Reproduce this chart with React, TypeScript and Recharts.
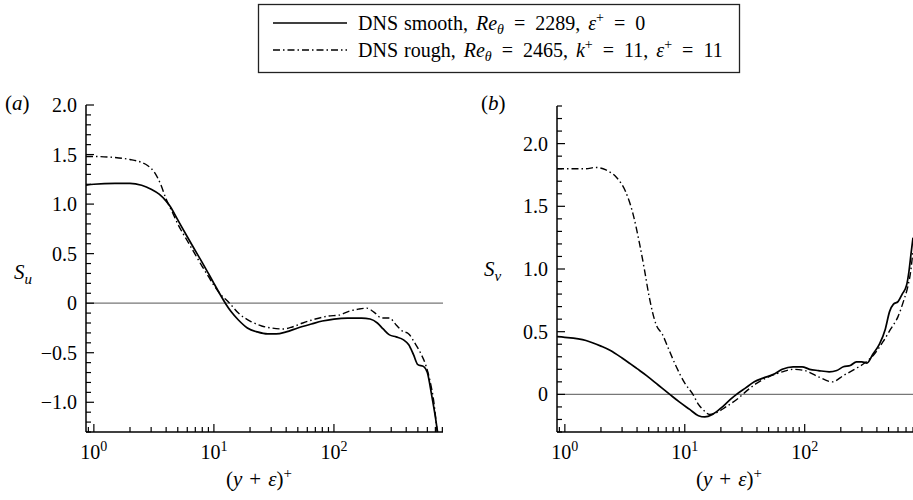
import React from 'react';
import {
  LineChart,
  Line,
  XAxis,
  YAxis,
  ReferenceLine,
} from 'recharts';

/* ---------- DATA ---------- */
// panel (a): S_u
const suSmoothX = [0.86, 1, 1.5, 2, 2.5, 3, 3.5, 4, 4.3, 5, 6, 7, 8, 9, 10, 11, 12.6, 14, 16, 19, 23, 28, 33, 40, 50, 65, 80, 100, 130, 170, 200, 230, 257, 290, 330, 380, 420, 460, 500, 560, 600, 650, 700, 740];
const suSmoothY = [1.19, 1.2, 1.21, 1.21, 1.19, 1.15, 1.1, 1.03, 0.98, 0.84, 0.67, 0.53, 0.41, 0.3, 0.2, 0.11, -0.01, -0.09, -0.17, -0.25, -0.29, -0.31, -0.31, -0.29, -0.25, -0.21, -0.18, -0.16, -0.15, -0.15, -0.16, -0.2, -0.26, -0.32, -0.34, -0.37, -0.42, -0.52, -0.62, -0.64, -0.7, -0.92, -1.15, -1.35];
const suRoughX = [0.86, 1, 1.5, 2, 2.5, 2.8, 3.2, 3.6, 4, 4.5, 5, 6, 7, 8, 9, 10, 11, 13.5, 16, 20, 25, 30, 38, 45, 55, 70, 90, 110, 135, 160, 188, 215, 250, 290, 330, 370, 420, 470, 525, 580, 630, 680, 730];
const suRoughY = [1.48, 1.48, 1.47, 1.45, 1.42, 1.39, 1.32, 1.2, 1.05, 0.92, 0.8, 0.63, 0.49, 0.37, 0.27, 0.18, 0.11, 0, -0.1, -0.18, -0.23, -0.25, -0.26, -0.24, -0.2, -0.16, -0.13, -0.12, -0.08, -0.06, -0.05, -0.09, -0.15, -0.15, -0.22, -0.28, -0.31, -0.4, -0.5, -0.62, -0.78, -1.0, -1.35];

// panel (b): S_v
const svSmoothX = [0.86, 1, 1.5, 2, 2.4, 3, 3.5, 4, 4.8, 6, 7.5, 9, 11, 13, 14.7, 17, 20, 24, 27, 32, 38, 45, 55, 65, 80, 95, 110, 130, 160, 185, 210, 240, 270, 300, 330, 370, 420, 470, 510, 550, 600, 650, 707, 740, 770, 800];
const svSmoothY = [0.46, 0.455, 0.43, 0.385, 0.35, 0.29, 0.245, 0.205, 0.15, 0.075, 0, -0.06, -0.12, -0.17, -0.18, -0.16, -0.11, -0.04, 0, 0.05, 0.1, 0.13, 0.16, 0.2, 0.22, 0.22, 0.2, 0.19, 0.18, 0.19, 0.22, 0.23, 0.26, 0.26, 0.25, 0.32, 0.4, 0.52, 0.66, 0.72, 0.74, 0.8, 0.87, 0.98, 1.12, 1.25];
const svRoughX = [0.86, 1, 1.5, 1.8, 2.2, 2.7, 3.2, 3.7, 4.2, 4.6, 5, 5.8, 6.5, 7.2, 8.5, 10, 11.7, 13, 14.5, 16.1, 18, 22, 28, 33, 40, 50, 65, 80, 100, 130, 170, 210, 260, 316, 380, 450, 520, 600, 670, 720, 770, 800];
const svRoughY = [1.8, 1.8, 1.8, 1.81, 1.79, 1.73, 1.62, 1.44, 1.2, 1.0, 0.8, 0.55, 0.48, 0.38, 0.22, 0.09, 0, -0.08, -0.13, -0.16, -0.15, -0.1, -0.03, 0.03, 0.09, 0.14, 0.18, 0.2, 0.19, 0.14, 0.1, 0.15, 0.2, 0.25, 0.32, 0.42, 0.52, 0.62, 0.75, 0.85, 1.0, 1.15];

// ticks
const xMinorTicks = [0.9, 1, 2, 3, 4, 5, 6, 7, 8, 9, 10, 20, 30, 40, 50, 60, 70, 80, 90, 100, 200, 300, 400, 500, 600, 700, 800];
const xMajorTicks = [1, 10, 100];
const xMajorExp = ['0', '1', '2'];
const yMajorA = [-1.0, -0.5, 0, 0.5, 1.0, 1.5, 2.0];
const yLabelsA = ['\u22121.0', '\u22120.5', '0', '0.5', '1.0', '1.5', '2.0'];
const yMajorB = [0, 0.5, 1.0, 1.5, 2.0];
const yLabelsB = ['0', '0.5', '1.0', '1.5', '2.0'];

const zip = (xs: number[], ys: number[]) => xs.map((x, i) => ({ x, y: ys[i] }));
const tenths = (from: number, to: number) => {
  const out: number[] = [];
  for (let i = from; i <= to; i++) out.push(Math.round(i) / 10);
  return out;
};

const FONT = '"Liberation Serif", serif';
const FS = 20;

/* ---------- TICKS ---------- */
const makeYTick = (majors: number[], labels: string[]) => (props: any) => {
  const { x, y, payload } = props;
  const idx = majors.findIndex((m) => Math.abs(m - payload.value) < 1e-6);
  const major = idx >= 0;
  return (
    <g>
      <line x1={x} x2={x + (major ? 8 : 5)} y1={y} y2={y} stroke="#000" strokeWidth={1.2} />
      {major && (
        <text x={x - 9} y={y} dy="0.35em" textAnchor="end" fontFamily={FONT} fontSize={FS} fill="#000">
          {labels[idx]}
        </text>
      )}
    </g>
  );
};

const XTick = (props: any) => {
  const { x, y, payload } = props;
  const idx = xMajorTicks.indexOf(payload.value);
  const major = idx >= 0;
  return (
    <g>
      <line x1={x} x2={x} y1={y} y2={y - (major ? 8 : 5)} stroke="#000" strokeWidth={1.2} />
      {major && (
        <text x={x} y={y + 27} textAnchor="middle" fontFamily={FONT} fontSize={FS} fill="#000">
          <tspan>10</tspan>
          <tspan dy={-8} fontSize={14}>{xMajorExp[idx]}</tspan>
        </text>
      )}
    </g>
  );
};

/* ---------- PANEL ---------- */
interface PanelProps {
  left: number;
  width: number;
  marginLeft: number;
  marginTop: number;
  marginRight: number;
  yDomain: [number, number];
  yTicks: number[];
  yTick: (p: any) => React.ReactElement;
  smooth: { x: number; y: number }[];
  rough: { x: number; y: number }[];
  xMax: number;
}

const Panel: React.FC<PanelProps> = (p) => (
  <div style={{ position: 'absolute', left: p.left, top: 0 }}>
    <LineChart
      width={p.width}
      height={500}
      margin={{ top: p.marginTop, right: p.marginRight, left: p.marginLeft, bottom: 38 }}
    >
      <XAxis
        dataKey="x"
        type="number"
        scale="log"
        domain={[0.86, p.xMax]}
        allowDataOverflow
        ticks={xMinorTicks}
        interval={0}
        tickSize={0}
        tickMargin={0}
        tick={<XTick />}
        height={30}
        axisLine={{ stroke: '#000', strokeWidth: 1.5 }}
      />
      <YAxis
        type="number"
        domain={p.yDomain}
        allowDataOverflow
        ticks={p.yTicks}
        interval={0}
        tickSize={0}
        tickMargin={0}
        tick={p.yTick}
        width={50}
        axisLine={{ stroke: '#000', strokeWidth: 1.5 }}
      />
      <ReferenceLine y={0} stroke="#777" strokeWidth={1.3} />
      <Line
        data={p.rough}
        dataKey="y"
        type="monotone"
        stroke="#000"
        strokeWidth={1.4}
        strokeDasharray="7 3 1.5 3"
        dot={false}
        isAnimationActive={false}
      />
      <Line
        data={p.smooth}
        dataKey="y"
        type="monotone"
        stroke="#000"
        strokeWidth={1.7}
        dot={false}
        isAnimationActive={false}
      />
    </LineChart>
  </div>
);

const XTitle = ({ x }: { x: number }) => (
  <text x={x} y={486} textAnchor="middle" fontFamily={FONT} fontSize={21} fill="#000">
    <tspan>(</tspan>
    <tspan fontStyle="italic">y</tspan>
    <tspan dx={7}>+</tspan>
    <tspan dx={7} fontStyle="italic">ε</tspan>
    <tspan>)</tspan>
    <tspan dy={-8} fontSize={15}>+</tspan>
  </text>
);

/* ---------- APP ---------- */
export default function App() {
  const txt = { fontFamily: FONT, fontSize: FS, fill: '#000' } as const;
  const sub = { fontSize: 14, fontStyle: 'italic' } as const;
  const sup = { fontSize: 14 } as const;
  return (
    <div style={{ position: 'absolute', left: 0, top: 0, width: 913, height: 500, background: '#fff' }}>
      <Panel
        left={0}
        width={460}
        marginLeft={36}
        marginTop={105}
        marginRight={17}
        yDomain={[-1.3, 2.0]}
        yTicks={tenths(-13, 20)}
        yTick={makeYTick(yMajorA, yLabelsA)}
        smooth={zip(suSmoothX, suSmoothY)}
        rough={zip(suRoughX, suRoughY)}
        xMax={810}
      />
      <Panel
        left={460}
        width={453}
        marginLeft={47}
        marginTop={106}
        marginRight={0}
        yDomain={[-0.3, 2.3]}
        yTicks={tenths(-3, 23)}
        yTick={makeYTick(yMajorB, yLabelsB)}
        smooth={zip(svSmoothX, svSmoothY)}
        rough={zip(svRoughX, svRoughY)}
        xMax={800}
      />

      {/* annotations */}
      <svg width={913} height={500} style={{ position: 'absolute', left: 0, top: 0, pointerEvents: 'none' }}>
        <text x={5} y={110} {...txt} fontSize={21}>(<tspan fontStyle="italic">a</tspan>)</text>
        <text x={481} y={110} {...txt} fontSize={21}>(<tspan fontStyle="italic">b</tspan>)</text>
        <text x={14} y={279} {...txt} fontSize={21} fontStyle="italic">
          S<tspan dy={5} fontSize={15}>u</tspan>
        </text>
        <text x={484} y={276} {...txt} fontSize={21} fontStyle="italic">
          S<tspan dy={5} fontSize={15}>v</tspan>
        </text>
        <XTitle x={259} />
        <XTitle x={729} />

        {/* legend */}
        <rect x={258.5} y={4.5} width={481} height={68} fill="#fff" stroke="#222" strokeWidth={1.3} />
        <line x1={273} x2={347} y1={23} y2={23} stroke="#000" strokeWidth={1.7} />
        <line x1={273} x2={347} y1={50} y2={50} stroke="#000" strokeWidth={1.4} strokeDasharray="7 3 1.5 3" />
        <text x={358} y={30} {...txt}>
          <tspan>DNS</tspan>
          <tspan dx={6}>smooth,</tspan>
          <tspan dx={8} fontStyle="italic">Re</tspan>
          <tspan dy={4} {...sub}>θ</tspan>
          <tspan dx={10} dy={-4}>=</tspan>
          <tspan dx={10}>2289,</tspan>
          <tspan dx={8} fontStyle="italic">ε</tspan>
          <tspan dy={-8} {...sup}>+</tspan>
          <tspan dx={10} dy={8}>=</tspan>
          <tspan dx={10}>0</tspan>
        </text>
        <text x={358} y={57} {...txt}>
          <tspan>DNS</tspan>
          <tspan dx={6}>rough,</tspan>
          <tspan dx={8} fontStyle="italic">Re</tspan>
          <tspan dy={4} {...sub}>θ</tspan>
          <tspan dx={10} dy={-4}>=</tspan>
          <tspan dx={10}>2465,</tspan>
          <tspan dx={8} fontStyle="italic">k</tspan>
          <tspan dy={-8} {...sup}>+</tspan>
          <tspan dx={10} dy={8}>=</tspan>
          <tspan dx={10}>11,</tspan>
          <tspan dx={8} fontStyle="italic">ε</tspan>
          <tspan dy={-8} {...sup}>+</tspan>
          <tspan dx={10} dy={8}>=</tspan>
          <tspan dx={10}>11</tspan>
        </text>
      </svg>
    </div>
  );
}
